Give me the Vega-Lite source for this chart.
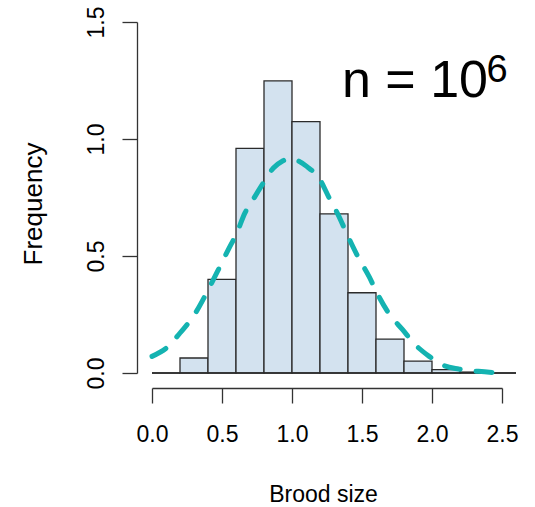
{
  "$schema": "https://vega.github.io/schema/vega-lite/v6.json",
  "autosize": {"type": "none"},
  "padding": {"left": 152, "top": 22, "right": 33, "bottom": 134},
  "width": 350,
  "height": 351,
  "background": "white",
  "config": {
    "view": {"stroke": null},
    "font": "Liberation Sans",
    "axis": {
      "domainColor": "#333333",
      "domainWidth": 1.3,
      "tickColor": "#333333",
      "tickWidth": 1.3,
      "tickSize": 15,
      "grid": false,
      "labelColor": "#000000",
      "labelFontSize": 23,
      "labelFont": "Liberation Sans",
      "titleFont": "Liberation Sans",
      "titleFontWeight": "normal",
      "titleColor": "#000000",
      "labelFlush": false,
      "labelOverlap": false
    }
  },
  "datasets": {
    "bins": [
      {"bin_start": 0.0, "bin_end": 0.2, "frequency": 0.0},
      {"bin_start": 0.2, "bin_end": 0.4, "frequency": 0.064},
      {"bin_start": 0.4, "bin_end": 0.6, "frequency": 0.40},
      {"bin_start": 0.6, "bin_end": 0.8, "frequency": 0.96},
      {"bin_start": 0.8, "bin_end": 1.0, "frequency": 1.248},
      {"bin_start": 1.0, "bin_end": 1.2, "frequency": 1.074},
      {"bin_start": 1.2, "bin_end": 1.4, "frequency": 0.68},
      {"bin_start": 1.4, "bin_end": 1.6, "frequency": 0.343},
      {"bin_start": 1.6, "bin_end": 1.8, "frequency": 0.145},
      {"bin_start": 1.8, "bin_end": 2.0, "frequency": 0.051},
      {"bin_start": 2.0, "bin_end": 2.2, "frequency": 0.014},
      {"bin_start": 2.2, "bin_end": 2.4, "frequency": 0.004},
      {"bin_start": 2.4, "bin_end": 2.6, "frequency": 0.0}
    ],
    "curve": [
      {"x": 0.0, "density": 0.071},
      {"x": 0.117, "density": 0.114},
      {"x": 0.2, "density": 0.171},
      {"x": 0.295, "density": 0.242},
      {"x": 0.414, "density": 0.37},
      {"x": 0.486, "density": 0.456},
      {"x": 0.545, "density": 0.527},
      {"x": 0.605, "density": 0.598},
      {"x": 0.664, "density": 0.684},
      {"x": 0.736, "density": 0.755},
      {"x": 0.795, "density": 0.812},
      {"x": 0.867, "density": 0.876},
      {"x": 0.93, "density": 0.905},
      {"x": 0.986, "density": 0.916},
      {"x": 1.05, "density": 0.905},
      {"x": 1.105, "density": 0.883},
      {"x": 1.2, "density": 0.826},
      {"x": 1.26, "density": 0.755},
      {"x": 1.33, "density": 0.676},
      {"x": 1.4, "density": 0.584},
      {"x": 1.47, "density": 0.498},
      {"x": 1.55, "density": 0.413},
      {"x": 1.62, "density": 0.327},
      {"x": 1.69, "density": 0.256},
      {"x": 1.79, "density": 0.185},
      {"x": 1.88, "density": 0.121},
      {"x": 1.98, "density": 0.071},
      {"x": 2.07, "density": 0.036},
      {"x": 2.19, "density": 0.017},
      {"x": 2.33, "density": 0.007},
      {"x": 2.51, "density": 0.0}
    ],
    "note": [
      {"base": "n = 10", "exponent": "6"}
    ]
  },
  "layer": [
    {
      "data": {"name": "bins"},
      "mark": {"type": "rect", "fill": "#d3e2ef", "stroke": "#2b2b2b", "strokeWidth": 1.3},
      "encoding": {
        "x": {
          "field": "bin_start", "type": "quantitative",
          "scale": {"domain": [0, 2.5], "nice": false, "zero": false},
          "axis": {
            "title": "Brood size",
            "values": [0, 0.5, 1, 1.5, 2, 2.5],
            "format": ".1f",
            "offset": 15,
            "labelBaseline": "alphabetic",
            "labelPadding": 38.7,
            "titleFontSize": 23,
            "titleX": 171,
            "titleY": 113.7,
            "titleAlign": "center",
            "titleBaseline": "alphabetic",
            "titleAnchor": null
          }
        },
        "x2": {"field": "bin_end"},
        "y": {
          "field": "frequency", "type": "quantitative",
          "scale": {"domain": [0, 1.5], "nice": false, "zero": false},
          "axis": {
            "title": "Frequency",
            "values": [0, 0.5, 1, 1.5],
            "format": ".1f",
            "offset": 15,
            "labelAngle": 270,
            "labelAlign": "center",
            "labelBaseline": "alphabetic",
            "labelPadding": 19,
            "titleFontSize": 26,
            "titleAngle": 270,
            "titleX": -95.3,
            "titleY": 181.5,
            "titleAlign": "center",
            "titleBaseline": "alphabetic",
            "titleAnchor": null
          }
        },
        "y2": {"datum": 0}
      }
    },
    {
      "data": {"name": "bins"},
      "mark": {"type": "rule", "stroke": "#2b2b2b", "strokeWidth": 1.3},
      "encoding": {
        "x": {"aggregate": "min", "field": "bin_start", "type": "quantitative"},
        "x2": {"aggregate": "max", "field": "bin_end"},
        "y": {"datum": 0, "type": "quantitative"}
      }
    },
    {
      "data": {"name": "curve"},
      "mark": {"type": "line", "color": "#14b3b1", "strokeWidth": 5, "strokeDash": [16, 16], "strokeCap": "round", "interpolate": "monotone"},
      "encoding": {
        "x": {"field": "x", "type": "quantitative"},
        "y": {"field": "density", "type": "quantitative"}
      }
    },
    {
      "data": {"name": "note"},
      "mark": {"type": "text", "fontSize": 52, "align": "left", "baseline": "alphabetic", "color": "#000000", "font": "Liberation Sans"},
      "encoding": {
        "text": {"field": "base", "type": "nominal"},
        "x": {"datum": 1.357, "type": "quantitative"},
        "y": {"datum": 1.181, "type": "quantitative"}
      }
    },
    {
      "data": {"name": "note"},
      "mark": {"type": "text", "fontSize": 38, "align": "left", "baseline": "alphabetic", "color": "#000000", "font": "Liberation Sans"},
      "encoding": {
        "text": {"field": "exponent", "type": "nominal"},
        "x": {"datum": 2.39, "type": "quantitative"},
        "y": {"datum": 1.244, "type": "quantitative"}
      }
    }
  ]
}
